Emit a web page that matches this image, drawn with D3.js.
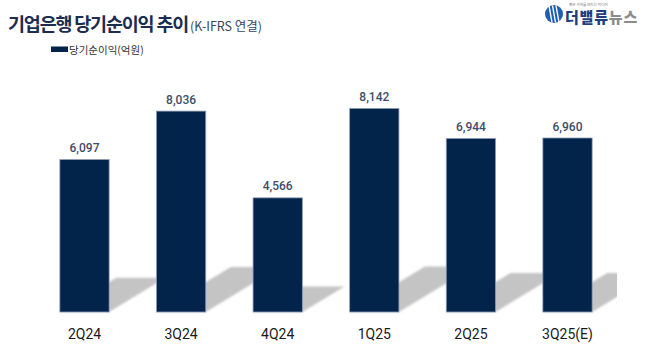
<!DOCTYPE html>
<html>
<head>
<meta charset="utf-8">
<script src="https://cdn.jsdelivr.net/npm/d3@7/dist/d3.min.js"></script>
<style>
  html, body { margin: 0; padding: 0; background: #fff; }
  svg { display: block; }
</style>
</head>
<body>
<svg id="chart" width="650" height="357"></svg>
<script>
const categories = ["2Q24", "3Q24", "4Q24", "1Q25", "2Q25", "3Q25(E)"];
const netIncome = [6097, 8036, 4566, 8142, 6944, 6960];
const valueLabels = ["6,097", "8,036", "4,566", "8,142", "6,944", "6,960"];
const titleText = "기업은행 당기순이익 추이";
const subtitleText = "(K-IFRS 연결)";
const legendText = "당기순이익(억원)";

const svg = d3.select("#chart");
const W = 650, H = 357;

const x = d3.scaleBand().domain(categories).range([36.2, 615.8])
  .paddingInner(0.49).paddingOuter(0.245);
const y = d3.scaleLinear().domain([0, 10000]).range([312, 62]);

const defs = svg.append("defs");
defs.append("filter").attr("id", "blur").attr("x", "-20%").attr("y", "-20%")
  .attr("width", "140%").attr("height", "140%")
  .append("feGaussianBlur").attr("stdDeviation", 1.3);
defs.append("clipPath").attr("id", "plotclip")
  .append("rect").attr("x", 0).attr("y", 0).attr("width", 617).attr("height", H);

const data = categories.map((c, i) => ({ c, v: netIncome[i], label: valueLabels[i] }));

// Shadows
const shadowG = svg.append("g").attr("clip-path", "url(#plotclip)")
  .append("g").attr("filter", "url(#blur)");
shadowG.selectAll("path").data(data).join("path")
  .attr("fill", "#c4c4c4")
  .attr("d", d => {
    const L = x(d.c), R = L + x.bandwidth(), b = y(0);
    const h = (y(0) - y(d.v)) * 0.224;
    const dx = h * 1.65;
    return `M${L},${b}L${R},${b}L${R + dx},${b - h}L${L + dx},${b - h}Z`;
  });

// Bars
svg.append("g").selectAll("rect").data(data).join("rect")
  .attr("x", d => x(d.c))
  .attr("y", d => y(d.v))
  .attr("width", x.bandwidth())
  .attr("height", d => y(0) - y(d.v))
  .attr("fill", "#02234a")
  .attr("stroke", "#8b9cb6")
  .attr("stroke-width", 0.8);

// Value labels
svg.append("g").selectAll("text").data(data).join("text")
  .attr("x", d => x(d.c) + x.bandwidth() / 2)
  .attr("y", d => y(d.v) - 7.5)
  .attr("text-anchor", "middle")
  .attr("font-family", "Roboto, 'Noto Sans', sans-serif")
  .attr("font-size", 12)
  .attr("font-weight", 500)
  .attr("fill", "#3d4d6a")
  .text(d => d.label);

// Category axis labels
const xAxis = d3.axisBottom(x).tickSize(0).tickPadding(0);
const axG = svg.append("g").attr("transform", "translate(0,329)").call(xAxis);
axG.select(".domain").remove();
axG.selectAll("text")
  .attr("font-family", "Roboto, 'Noto Sans', sans-serif")
  .attr("font-size", 14)
  .attr("fill", "#1a1a1a")
  .attr("dy", "0.71em");

// Title
const title = svg.append("text").attr("x", 8).attr("y", 30.5)
  .attr("font-family", "'Noto Sans CJK KR', sans-serif");
title.append("tspan").attr("font-size", 18.5).attr("font-weight", 700)
  .attr("letter-spacing", -1.2).attr("fill", "#1c2d4f").text(titleText);
title.append("tspan").attr("font-size", 12.5).attr("font-weight", 400)
  .attr("letter-spacing", 0).attr("fill", "#3a4560").attr("dx", 2).text(subtitleText);

// Legend
svg.append("rect").attr("x", 51).attr("y", 46.5).attr("width", 17).attr("height", 5.5).attr("fill", "#02234a");
svg.append("text").attr("x", 69).attr("y", 53.5)
  .attr("font-family", "'Noto Sans CJK KR', sans-serif")
  .attr("font-size", 10.5).attr("fill", "#333").text(legendText);

// Logo
const logo = svg.append("g").attr("transform", "translate(554,14)");
logo.append("circle").attr("r", 9).attr("fill", "#1f5fb0");
[-5, -1.5, 2].forEach(o => {
  logo.append("line").attr("x1", o).attr("y1", -8.5).attr("x2", o + 3).attr("y2", 8.5)
    .attr("stroke", "#fff").attr("stroke-width", 1.4);
});
svg.append("text").attr("x", 569).attr("y", 6)
  .attr("font-family", "'Noto Sans CJK KR', sans-serif")
  .attr("font-size", 3.6).attr("fill", "#777").text("좋은 가치를 만드는 미디어");
const lt = svg.append("text").attr("x", 565).attr("y", 22.5)
  .attr("font-family", "'Noto Sans CJK KR', sans-serif")
  .attr("font-size", 15).attr("font-weight", 900).attr("letter-spacing", 0.8);
lt.append("tspan").attr("fill", "#1f3f7e").text("더밸류");
lt.append("tspan").attr("fill", "#8c8c8c").text("뉴스");
</script>
</body>
</html>
